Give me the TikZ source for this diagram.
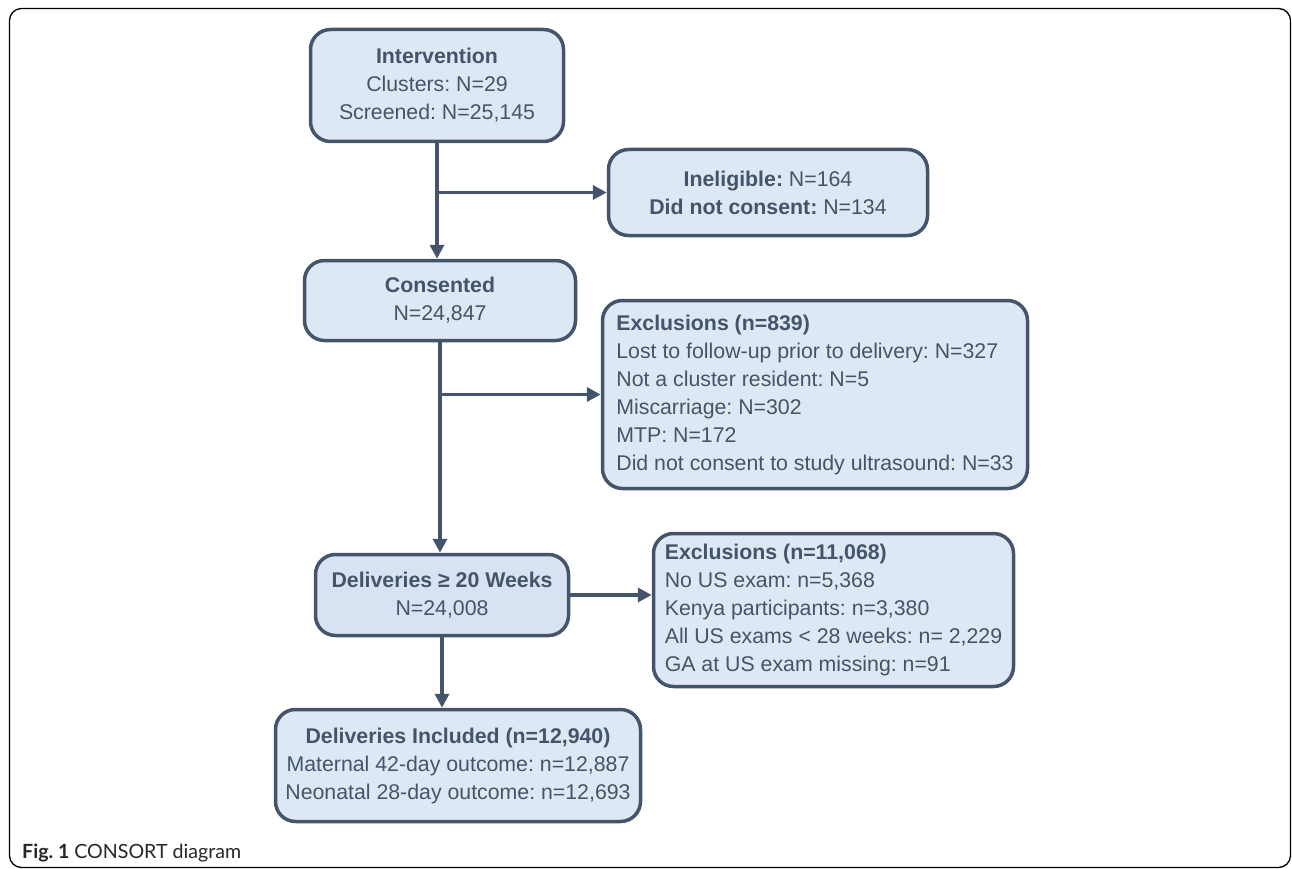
\documentclass[tikz,border=0pt]{standalone}
\usepackage{fontspec}
\setmainfont{Liberation Sans}
\newfontfamily\capfont{Lato}
\usetikzlibrary{arrows.meta}
\definecolor{edge}{HTML}{44546A}
\definecolor{boxfill}{HTML}{DEE8F4}
\definecolor{boxfilltwo}{HTML}{D8E2F2}
\definecolor{txt}{HTML}{44546A}
\frenchspacing
\begin{document}
\begin{tikzpicture}[x=1pt,y=-1pt,
  box/.style={draw=edge, line width=3.5pt, fill=boxfill, rounded corners=20pt, text=txt,
    font=\fontsize{21.3}{28}\selectfont, inner sep=0pt, align=center},
  lbox/.style={box, align=left},
  conn/.style={draw=edge, line width=3.5pt, -{Triangle[length=14pt,width=14pt]}}]
\useasboundingbox (0,0) rectangle (1292,869);
\draw[line width=1.3pt, rounded corners=12pt] (9.5,8.5) rectangle (1290.5,867.5);

\node[box, minimum width=253pt, minimum height=112pt] (int) at (437,85.5)
  {\textbf{Intervention}\\Clusters: N=29\\Screened: N=25,145};
\node[box, minimum width=319pt, minimum height=86pt] (inel) at (768,192.5)
  {\textbf{Ineligible:} N=164\\\textbf{Did not consent:} N=134};
\node[box, minimum width=271pt, minimum height=80pt] (cons) at (440,300.5)
  {\textbf{Consented}\\N=24,847};
\node[lbox, minimum width=425pt, minimum height=188pt] (exa) at (815,394.5)
  {\textbf{Exclusions (n=839)}\\Lost to follow-up prior to delivery: N=327\\Not a cluster resident: N=5\\Miscarriage: N=302\\MTP: N=172\\Did not consent to study ultrasound: N=33};
\node[box, fill=boxfilltwo, minimum width=253pt, minimum height=81pt] (del) at (442,595)
  {\textbf{Deliveries ≥ 20 Weeks}\\N=24,008};
\node[lbox, minimum width=360pt, minimum height=153pt] (exb) at (833.5,610)
  {\textbf{Exclusions (n=11,068)}\\No US exam: n=5,368\\Kenya participants: n=3,380\\All US exams < 28 weeks: n= 2,229\\GA at US exam missing: n=91};
\node[box, minimum width=365pt, minimum height=112pt] (inc) at (458,765.5)
  {\textbf{Deliveries Included (n=12,940)}\\Maternal 42-day outcome: n=12,887\\Neonatal 28-day outcome: n=12,693};

\draw[conn] (int.south) -- (int.south |- cons.north);
\draw[conn] (int.south |- inel.west) -- (inel.west);
\draw[conn] (cons.south) -- (cons.south |- del.north);
\draw[conn] (cons.south |- exa.west) -- (exa.west);
\draw[conn] (del.east) -- (exb.west |- del.east);
\draw[conn] (del.south) -- (del.south |- inc.north);

\node[anchor=base west, inner sep=0pt, font=\capfont\fontsize{19.6}{24}\selectfont, text=black!85] (cap) at (22,858)
  {\textbf{Fig. 1} CONSORT diagram};
\end{tikzpicture}
\end{document}
